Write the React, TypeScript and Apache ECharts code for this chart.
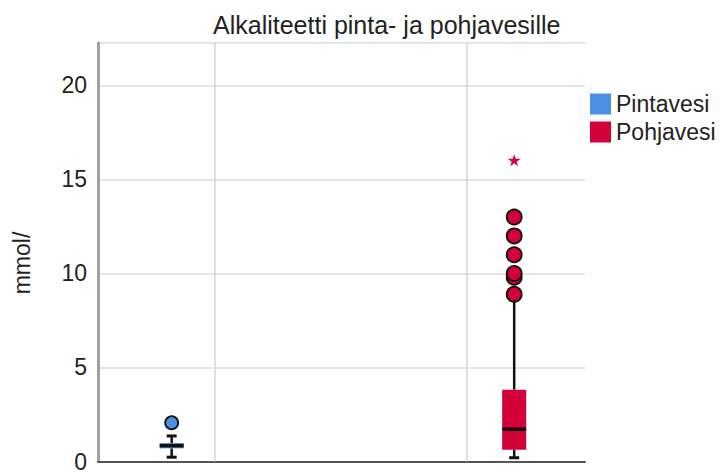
import React, { useEffect, useRef } from "react";
import * as echarts from "echarts";

// ---- data ----
const seriesNames = ["Pintavesi", "Pohjavesi"];
const seriesColors = ["#4A90E2", "#D4003A"];
// [lower whisker, Q1, median, Q3, upper whisker]
const pintaBox = [0.23, 0.7, 0.84, 0.98, 1.36];
const pohjaBox = [0.2, 0.63, 1.72, 3.82, 8.6];
const pintaOutliers = [2.06];
const pohjaOutliers = [8.9, 9.8, 10.0, 11.0, 12.0, 13.0];
const pohjaExtremes = [16.03];
const yTicks = [0, 5, 10, 15, 20];

// layout positions on the hidden x value axis (cluster centres at 1 and 2)
const PINTA_X = 0.828;
const POHJA_X = 2.187;

const FONT = "'Liberation Sans', Arial, sans-serif";
const STAR =
  "path://M50,0 L61,35 L98,35 L68,57 L79,91 L50,70 L21,91 L32,57 L2,35 L39,35 Z";

function boxRenderer(color: string) {
  return (params: any, api: any) => {
    const x = api.value(0);
    const low = api.coord([x, api.value(1)]);
    const q1 = api.coord([x, api.value(2)]);
    const med = api.coord([x, api.value(3)]);
    const q3 = api.coord([x, api.value(4)]);
    const high = api.coord([x, api.value(5)]);
    const cx = low[0];
    const w = 24;
    const cap = 10;
    const black = "#111";
    return {
      type: "group",
      children: [
        { type: "line", shape: { x1: cx, y1: high[1], x2: cx, y2: q3[1] }, style: { stroke: black, lineWidth: 2.5 } },
        { type: "line", shape: { x1: cx, y1: q1[1], x2: cx, y2: low[1] }, style: { stroke: black, lineWidth: 2.5 } },
        { type: "line", shape: { x1: cx - cap / 2, y1: high[1], x2: cx + cap / 2, y2: high[1] }, style: { stroke: black, lineWidth: 3 } },
        { type: "line", shape: { x1: cx - cap / 2, y1: low[1], x2: cx + cap / 2, y2: low[1] }, style: { stroke: black, lineWidth: 3 } },
        { type: "rect", shape: { x: cx - w / 2, y: q3[1], width: w, height: q1[1] - q3[1] }, style: { fill: color } },
        { type: "line", shape: { x1: cx - w / 2, y1: med[1], x2: cx + w / 2, y2: med[1] }, style: { stroke: black, lineWidth: 3.5 } },
      ],
    };
  };
}

export default function App() {
  const ref = useRef<HTMLDivElement>(null);
  useEffect(() => {
    if (!ref.current) return;
    const chart = echarts.init(ref.current, null, { renderer: "svg" });
    chart.setOption({
      animation: false,
      backgroundColor: "#fff",
      title: {
        text: "Alkaliteetti pinta- ja pohjavesille",
        left: 208,
        top: 7,
        textStyle: { fontFamily: FONT, fontSize: 25, fontWeight: "normal", color: "#222" },
      },
      legend: {
        orient: "vertical",
        left: 585,
        top: 87,
        itemWidth: 21,
        itemHeight: 21,
        itemGap: 4,
        selectedMode: false,
        textStyle: { fontFamily: FONT, fontSize: 23, lineHeight: 24, color: "#222" },
        data: seriesNames.map((n, i) => ({ name: n, icon: "rect", itemStyle: { color: seriesColors[i] } })),
      },
      graphic: [
        {
          type: "text",
          x: 22,
          y: 263,
          rotation: Math.PI / 2,
          style: {
            text: "mmol/",
            fontFamily: FONT,
            fontSize: 23,
            fill: "#222",
            align: "center",
            verticalAlign: "middle",
          },
        },
      ],
      grid: { left: 98, right: 142, top: 43, bottom: 6.5 },
      xAxis: {
        type: "value",
        min: 0.5357,
        max: 2.468,
        axisLine: { show: true, onZero: false, lineStyle: { color: "#555", width: 2 } },
        axisTick: { show: false },
        axisLabel: { show: false },
        splitLine: { show: false },
      },
      yAxis: {
        type: "value",
        min: 0,
        max: 22.26,
        interval: 5,
        axisLine: { show: true, lineStyle: { color: "#a0a0a0", width: 3 } },
        axisTick: { show: false },
        axisLabel: {
          fontFamily: FONT,
          fontSize: 23,
          color: "#222",
          margin: 11,
          formatter: (v: number) => (yTicks.includes(v) ? String(v) : ""),
        },
        splitLine: { show: true, lineStyle: { color: "#dcdcdc", width: 1.5 } },
      },
      series: [
        {
          name: seriesNames[0],
          type: "custom",
          renderItem: boxRenderer(seriesColors[0]),
          itemStyle: { color: seriesColors[0] },
          encode: { x: 0, y: [1, 2, 3, 4, 5] },
          data: [[PINTA_X, ...pintaBox]],
          z: 3,
          markLine: {
            silent: true,
            symbol: "none",
            label: { show: false },
            lineStyle: { color: "#d4d4d4", width: 1.5, type: "solid" },
            data: [{ xAxis: 1 }, { xAxis: 2 }],
            z: 1,
          },
        },
        {
          name: seriesNames[1],
          type: "custom",
          renderItem: boxRenderer(seriesColors[1]),
          itemStyle: { color: seriesColors[1] },
          encode: { x: 0, y: [1, 2, 3, 4, 5] },
          data: [[POHJA_X, ...pohjaBox]],
          z: 3,
        },
        {
          name: seriesNames[0],
          type: "scatter",
          symbol: "circle",
          symbolSize: 13,
          itemStyle: { color: seriesColors[0], borderColor: "#111", borderWidth: 1.8, opacity: 1 },
          data: pintaOutliers.map((v) => [PINTA_X, v]),
          z: 4,
        },
        {
          name: seriesNames[1],
          type: "scatter",
          symbol: "circle",
          symbolSize: 15,
          itemStyle: { color: seriesColors[1], borderColor: "#111", borderWidth: 1.8, opacity: 1 },
          data: pohjaOutliers.map((v) => [POHJA_X, v]),
          z: 4,
        },
        {
          name: seriesNames[1],
          type: "scatter",
          symbol: STAR,
          symbolSize: [13, 12],
          itemStyle: { color: seriesColors[1], opacity: 1 },
          data: pohjaExtremes.map((v) => [POHJA_X, v]),
          z: 4,
        },
      ],
    });
    return () => chart.dispose();
  }, []);
  return <div ref={ref} style={{ width: 727, height: 473, position: "absolute", left: 0, top: 0 }} />;
}
